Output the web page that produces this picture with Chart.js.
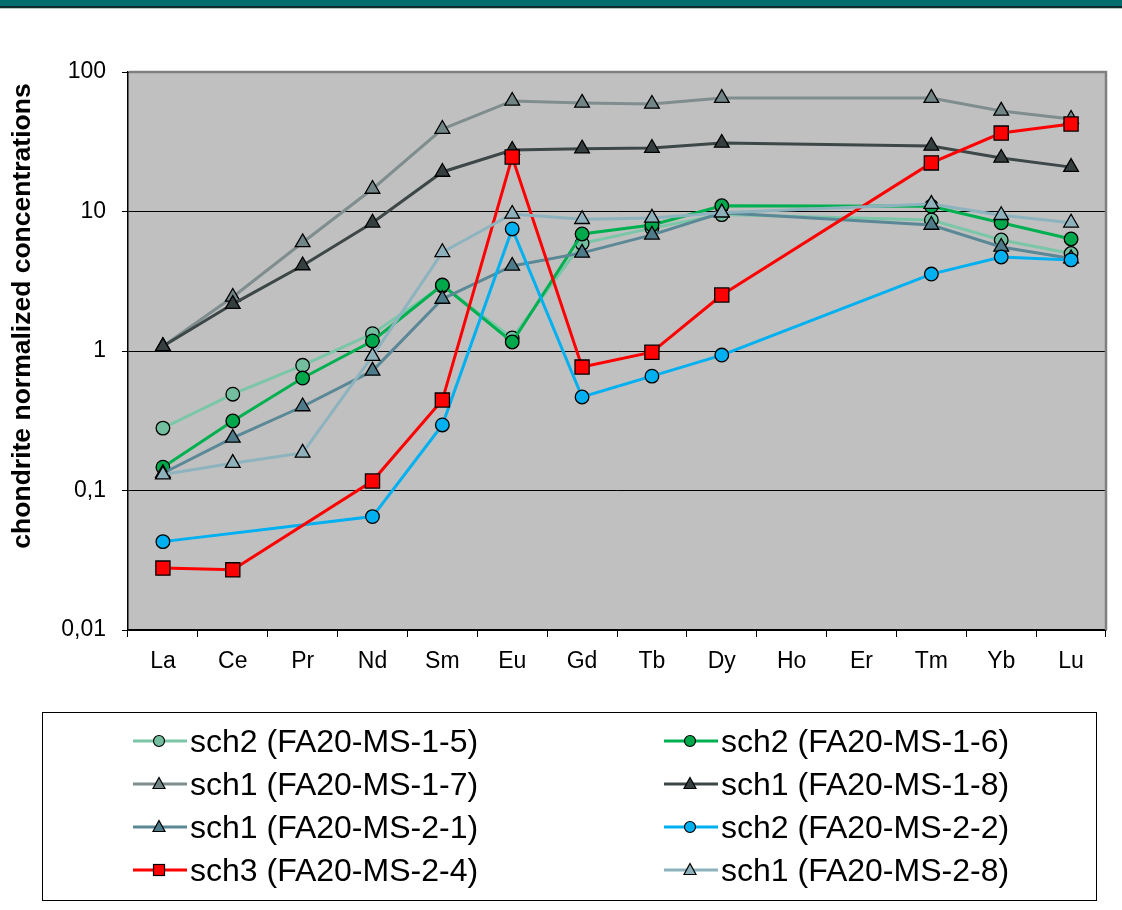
<!DOCTYPE html>
<html>
<head>
<meta charset="utf-8">
<script src="https://cdn.jsdelivr.net/npm/chart.js@4.4.0/dist/chart.umd.min.js"></script>
<style>
html,body{margin:0;padding:0;background:#fff;}
#wrap{position:relative;width:1122px;height:910px;overflow:hidden;background:#fff;}
#topbar{position:absolute;left:0;top:0;width:1122px;height:6px;background:#006e6e;border-bottom:2px solid #0d2b2b;}
#topline{position:absolute;left:0;top:8px;width:1122px;height:1px;background:#b8c4c4;}
#chart{position:absolute;left:0;top:0;}
#legend{position:absolute;left:42px;top:712px;width:1053px;height:187px;border:1px solid #000;
  font-family:"Liberation Sans",Arial,sans-serif;font-size:32px;color:#000;}
.item{position:absolute;height:40px;display:flex;align-items:center;white-space:nowrap;}
.item svg{margin-right:3px;}
</style>
</head>
<body>
<div id="wrap">
  <canvas id="chart" width="1122" height="910"></canvas>
  <div id="topbar"></div>
  <div id="topline"></div>
  <div id="legend"></div>
</div>
<script>
// ---- data ----
const categories = ['La','Ce','Pr','Nd','Sm','Eu','Gd','Tb','Dy','Ho','Er','Tm','Yb','Lu'];
const yTicks = [0.01, 0.1, 1, 10, 100];
const yTickLabels = ['0,01', '0,1', '1', '10', '100'];
const yTitle = 'chondrite normalized concentrations';

const seriesNames = [
  'sch2 (FA20-MS-1-5)', 'sch2 (FA20-MS-1-6)',
  'sch1 (FA20-MS-1-7)', 'sch1 (FA20-MS-1-8)',
  'sch1 (FA20-MS-2-1)', 'sch2 (FA20-MS-2-2)',
  'sch3 (FA20-MS-2-4)', 'sch1 (FA20-MS-2-8)'
];
const ms_1_5 = [0.28, 0.49, 0.79, 1.33, 2.93, 1.24, 5.9, 7.6, 9.5, null, null, 8.7, 6.25, 5.0];
const ms_1_6 = [0.147, 0.315, 0.64, 1.18, 2.97, 1.16, 6.9, 8.0, 11.0, null, null, 10.9, 8.3, 6.35];
const ms_1_7 = [1.08, 2.44, 6.0, 14.5, 39, 62, 60, 59, 65, null, null, 65, 52.6, 46];
const ms_1_8 = [1.08, 2.17, 4.1, 8.3, 19.2, 27.6, 28.2, 28.5, 31, null, null, 29.5, 24.2, 20.8];
const ms_2_1 = [0.133, 0.238, 0.40, 0.72, 2.36, 4.07, 5.05, 6.8, 9.8, null, null, 8.0, 5.57, 4.6];
const ms_2_2 = [0.043, null, null, 0.065, 0.295, 7.5, 0.468, 0.66, 0.935, null, null, 3.56, 4.72, 4.5];
const ms_2_4 = [0.0278, 0.027, null, 0.117, 0.445, 24.6, 0.767, 0.98, 2.52, null, null, 22.3, 36.5, 42.4];
const ms_2_8 = [0.13, 0.157, 0.186, 0.92, 5.1, 9.6, 8.8, 9.0, 9.8, null, null, 11.3, 9.4, 8.3];

// ---- styles ----
const seriesData = [ms_1_5, ms_1_6, ms_1_7, ms_1_8, ms_2_1, ms_2_2, ms_2_4, ms_2_8];
const lineColors = ['#7cc6a8', '#00b050', '#7f8d8e', '#3d4747', '#5b8896', '#00b0f0', '#ff0000', '#8db3bf'];
const fillColors = ['#74bea0', '#00a84c', '#718586', '#363f3f', '#4e7b8a', '#00b0f0', '#ff0000', '#8fb1bb'];
const shapes = ['circle', 'circle', 'triangle', 'triangle', 'triangle', 'circle', 'rect', 'triangle'];
const radii = {circle: 6.8, triangle: 8.5, rect: 10};

const FONT = '"Liberation Sans", Arial, sans-serif';

const datasets = seriesData.map((d, i) => ({
  label: seriesNames[i],
  data: d,
  order: seriesData.length - i,   // later series drawn on top
  borderColor: lineColors[i],
  backgroundColor: fillColors[i],
  borderWidth: 3,
  pointStyle: shapes[i],
  pointRadius: radii[shapes[i]],
  pointBackgroundColor: fillColors[i],
  pointBorderColor: '#000',
  pointBorderWidth: 1.3,
  spanGaps: true,
  tension: 0,
  fill: false
}));

const bgPlugin = {
  id: 'bg',
  beforeDraw(chart) {
    const {ctx, chartArea: a} = chart;
    ctx.save();
    ctx.fillStyle = '#c0c0c0';
    ctx.fillRect(a.left, a.top, a.right - a.left, a.bottom - a.top);
    ctx.restore();
  },
  beforeDatasetsDraw(chart) {
    const {ctx, chartArea: a} = chart;
    ctx.save();
    ctx.strokeStyle = '#808080';
    ctx.lineWidth = 2.5;
    ctx.beginPath();
    ctx.moveTo(a.left + 1, a.top);
    ctx.lineTo(a.right, a.top);
    ctx.lineTo(a.right, a.bottom);
    ctx.stroke();
    ctx.restore();
  },
  afterDraw(chart) {
    const {ctx} = chart;
    ctx.save();
    ctx.translate(23, 316);
    ctx.rotate(-Math.PI / 2);
    ctx.font = 'bold 26.5px ' + FONT;
    ctx.fillStyle = '#000';
    ctx.textAlign = 'center';
    ctx.textBaseline = 'middle';
    ctx.fillText(yTitle, 0, 0);
    ctx.restore();
  }
};

new Chart(document.getElementById('chart'), {
  type: 'line',
  data: {labels: categories, datasets},
  options: {
    responsive: false,
    animation: false,
    devicePixelRatio: 1,
    layout: {padding: {top: 72, right: 16, left: 0, bottom: 0}},
    plugins: {legend: {display: false}, tooltip: {enabled: false}, title: {display: false}},
    scales: {
      x: {
        type: 'category',
        offset: true,
        grid: {offset: true, drawOnChartArea: false, drawTicks: true, tickLength: 7, color: '#000', lineWidth: 1},
        border: {display: true, color: '#000', width: 1.5},
        ticks: {color: '#000', font: {family: FONT, size: 23}, padding: 11, maxRotation: 0, autoSkip: false},
        afterFit(s) { s.height = 280; }
      },
      y: {
        type: 'logarithmic',
        min: 0.01,
        max: 100,
        afterBuildTicks(s) { s.ticks = yTicks.map(v => ({value: v})); },
        ticks: {
          color: '#000', font: {family: FONT, size: 23}, padding: 16,
          callback: (v, i) => yTickLabels[yTicks.indexOf(v)] ?? yTickLabels[i]
        },
        grid: {color: '#000', lineWidth: 1, tickLength: 6, drawTicks: true},
        border: {display: true, color: '#000', width: 1.5},
        afterFit(s) { s.width = 128; }
      }
    }
  },
  plugins: [bgPlugin]
});

// ---- HTML legend built from the datasets ----
function symbolSVG(i) {
  const c = lineColors[i], f = fillColors[i], s = shapes[i];
  let m;
  if (s === 'circle') m = `<circle cx="26" cy="10" r="5.5" fill="${f}" stroke="#000" stroke-width="1.2"/>`;
  else if (s === 'rect') m = `<rect x="20.5" y="4.5" width="11" height="11" fill="${f}" stroke="#000" stroke-width="1.2"/>`;
  else m = `<polygon points="26,3.5 32,14.5 20,14.5" fill="${f}" stroke="#000" stroke-width="1.2"/>`;
  return `<svg width="54" height="20" viewBox="0 0 54 20"><line x1="0" y1="10" x2="54" y2="10" stroke="${c}" stroke-width="3"/>${m}</svg>`;
}
const legend = document.getElementById('legend');
const colX = [90, 621];
const rowY = [8, 51, 94, 137];
seriesNames.forEach((name, i) => {
  const div = document.createElement('div');
  div.className = 'item';
  div.style.left = colX[i % 2] + 'px';
  div.style.top = rowY[Math.floor(i / 2)] + 'px';
  div.innerHTML = symbolSVG(i) + '<span>' + name + '</span>';
  legend.appendChild(div);
});
</script>
</body>
</html>
